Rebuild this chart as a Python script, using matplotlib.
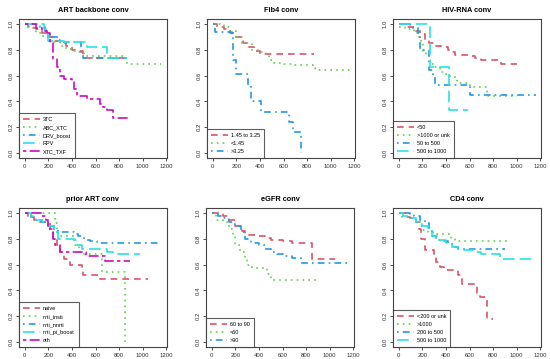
import numpy as np
import matplotlib
matplotlib.use("Agg")
import matplotlib.pyplot as plt

plt.rcParams['font.family'] = ['Liberation Sans', 'DejaVu Sans']

# R default palette colours and line types
RED, GREEN, BLUE, CYAN, MAGENTA = '#DF536B', '#61D04F', '#2297E6', '#28E2E5', '#CD0BBC'
LTY = [(0, (4, 3)), (0, (1, 2.5)), (0, (1, 2.5, 4, 2.5)), (0, (7, 3)), (0, (2, 2, 6, 2))]

#------------------------------------------------------------------------------
# ART backbone conv
art_3tc_t = [0, 30, 100, 150, 200, 250, 300, 350, 400, 450, 490, 900]
art_3tc_s = [1.0, 0.97, 0.96, 0.93, 0.90, 0.87, 0.85, 0.83, 0.80, 0.79, 0.74, 0.74]
art_abc_t = [0, 40, 100, 150, 200, 250, 300, 350, 400, 450, 500, 860, 870, 1150]
art_abc_s = [1.0, 0.97, 0.93, 0.91, 0.88, 0.86, 0.83, 0.81, 0.79, 0.78, 0.75, 0.74, 0.69, 0.69]
art_drv_t = [0, 130, 170, 200, 280, 300, 480, 490, 870]
art_drv_s = [1.0, 0.98, 0.95, 0.90, 0.88, 0.86, 0.78, 0.74, 0.74]
art_rpv_t = [0, 160, 180, 200, 330, 530, 700, 870]
art_rpv_s = [1.0, 0.96, 0.93, 0.87, 0.86, 0.82, 0.74, 0.74]
art_txf_t = [0, 100, 150, 185, 213, 241, 270, 298, 330, 397, 420, 440, 525, 640, 667, 695, 752, 880]
art_txf_s = [1.0, 0.97, 0.95, 0.93, 0.85, 0.73, 0.67, 0.60, 0.57, 0.55, 0.50, 0.44, 0.42, 0.38, 0.36, 0.33, 0.27, 0.27]

# Fib4 conv
fib_mid_t = [0, 40, 100, 150, 200, 260, 300, 350, 400, 860]
fib_mid_s = [1.0, 0.98, 0.96, 0.93, 0.90, 0.85, 0.82, 0.79, 0.77, 0.77]
fib_low_t = [0, 100, 150, 200, 250, 330, 400, 450, 480, 520, 600, 700, 850, 870, 1160]
fib_low_s = [1.0, 0.98, 0.95, 0.90, 0.85, 0.80, 0.78, 0.76, 0.72, 0.70, 0.69, 0.68, 0.66, 0.64, 0.64]
fib_high_t = [0, 20, 165, 175, 200, 297, 325, 410, 650, 678, 745, 745]
fib_high_s = [1.0, 0.94, 0.90, 0.72, 0.61, 0.53, 0.40, 0.32, 0.24, 0.16, 0.0, 0.0]

# HIV-RNA conv
hiv_lt50_t = [0, 50, 120, 180, 220, 260, 300, 360, 420, 450, 480, 600, 650, 700, 870, 1000]
hiv_lt50_s = [1.0, 0.98, 0.95, 0.92, 0.88, 0.85, 0.83, 0.82, 0.80, 0.78, 0.76, 0.755, 0.74, 0.725, 0.69, 0.69]
hiv_gt1000_t = [0, 50, 130, 170, 190, 207, 230, 264, 300, 350, 400, 450, 490, 600, 750, 1000]
hiv_gt1000_s = [0.98, 0.96, 0.93, 0.90, 0.85, 0.79, 0.75, 0.69, 0.67, 0.63, 0.60, 0.59, 0.54, 0.51, 0.44, 0.44]
hiv_50_500_t = [0, 100, 120, 160, 179, 260, 292, 306, 600, 1160]
hiv_50_500_s = [1.0, 0.98, 0.97, 0.93, 0.80, 0.64, 0.60, 0.53, 0.45, 0.45]
hiv_500_1000_t = [0, 264, 425, 590]
hiv_500_1000_s = [1.0, 0.665, 0.33, 0.33]

# prior ART conv
pri_naive_t = [0, 30, 76, 132, 188, 216, 240, 272, 300, 329, 385, 483, 497, 624, 638, 1040]
pri_naive_s = [1.0, 0.97, 0.95, 0.93, 0.92, 0.85, 0.80, 0.75, 0.70, 0.64, 0.60, 0.58, 0.52, 0.52, 0.49, 0.49]
pri_insti_t = [0, 258, 270, 285, 300, 430, 460, 490, 652, 848, 850]
pri_insti_s = [1.0, 0.92, 0.87, 0.83, 0.82, 0.75, 0.70, 0.68, 0.54, 0.0, 0.0]
pri_nnrti_t = [0, 50, 100, 150, 200, 250, 280, 420, 450, 500, 550, 610, 1140]
pri_nnrti_s = [1.0, 0.97, 0.95, 0.93, 0.90, 0.87, 0.85, 0.84, 0.82, 0.79, 0.78, 0.77, 0.77]
pri_pi_t = [0, 50, 100, 150, 200, 250, 286, 420, 440, 483, 700, 750, 980]
pri_pi_s = [1.0, 0.98, 0.95, 0.93, 0.90, 0.85, 0.80, 0.79, 0.75, 0.72, 0.70, 0.68, 0.68]
pri_oth_t = [0, 150, 180, 200, 240, 260, 300, 520, 680, 890]
pri_oth_s = [1.0, 0.98, 0.95, 0.88, 0.80, 0.75, 0.70, 0.67, 0.63, 0.63]

# eGFR conv
egfr_mid_t = [0, 100, 150, 200, 260, 282, 400, 450, 500, 600, 680, 850, 1040]
egfr_mid_s = [1.0, 0.98, 0.95, 0.90, 0.86, 0.83, 0.82, 0.81, 0.79, 0.78, 0.77, 0.64, 0.64]
egfr_low_t = [0, 40, 100, 150, 180, 200, 240, 280, 300, 339, 470, 500, 880]
egfr_low_s = [1.0, 0.95, 0.93, 0.88, 0.82, 0.75, 0.70, 0.65, 0.60, 0.57, 0.53, 0.48, 0.48]
egfr_high_t = [0, 50, 100, 150, 200, 250, 280, 330, 400, 450, 500, 550, 600, 680, 760, 1150]
egfr_high_s = [1.0, 0.98, 0.96, 0.93, 0.90, 0.85, 0.80, 0.77, 0.75, 0.72, 0.70, 0.68, 0.67, 0.65, 0.61, 0.61]

# CD4 conv
cd4_lt200_t = [0, 50, 100, 150, 170, 190, 221, 300, 320, 350, 380, 500, 533, 660, 690, 750, 800]
cd4_lt200_s = [1.0, 0.97, 0.96, 0.93, 0.88, 0.80, 0.71, 0.66, 0.62, 0.58, 0.56, 0.52, 0.45, 0.38, 0.35, 0.18, 0.18]
cd4_gt1000_t = [0, 30, 100, 150, 180, 200, 250, 292, 440, 480, 950]
cd4_gt1000_s = [1.0, 0.97, 0.96, 0.93, 0.90, 0.87, 0.85, 0.835, 0.80, 0.785, 0.785]
cd4_200_500_t = [0, 100, 130, 180, 220, 260, 280, 320, 380, 420, 460, 500, 900]
cd4_200_500_s = [1.0, 0.99, 0.98, 0.95, 0.92, 0.88, 0.82, 0.79, 0.78, 0.76, 0.74, 0.72, 0.72]
cd4_500_1000_t = [0, 40, 100, 150, 200, 250, 280, 330, 400, 450, 500, 550, 650, 700, 860, 1160]
cd4_500_1000_s = [1.0, 0.98, 0.96, 0.93, 0.90, 0.86, 0.82, 0.79, 0.77, 0.74, 0.72, 0.71, 0.70, 0.68, 0.64, 0.64]

panels = [
    ('ART backbone conv', ['3TC', 'ABC_XTC', 'DRV_boost', 'RPV', 'XTC_TXF'],
     [(art_3tc_t, art_3tc_s), (art_abc_t, art_abc_s), (art_drv_t, art_drv_s),
      (art_rpv_t, art_rpv_s), (art_txf_t, art_txf_s)]),
    ('Fib4 conv', ['1.45 to 3.25', '<1.45', '>3.25'],
     [(fib_mid_t, fib_mid_s), (fib_low_t, fib_low_s), (fib_high_t, fib_high_s)]),
    ('HIV-RNA conv', ['<50', '>1000 or unk', '50 to 500', '500 to 1000'],
     [(hiv_lt50_t, hiv_lt50_s), (hiv_gt1000_t, hiv_gt1000_s),
      (hiv_50_500_t, hiv_50_500_s), (hiv_500_1000_t, hiv_500_1000_s)]),
    ('prior ART conv', ['naive', 'nrti_insti', 'nrti_nnrti', 'nrti_pi_boost', 'oth'],
     [(pri_naive_t, pri_naive_s), (pri_insti_t, pri_insti_s), (pri_nnrti_t, pri_nnrti_s),
      (pri_pi_t, pri_pi_s), (pri_oth_t, pri_oth_s)]),
    ('eGFR conv', ['60 to 90', '<60', '>90'],
     [(egfr_mid_t, egfr_mid_s), (egfr_low_t, egfr_low_s), (egfr_high_t, egfr_high_s)]),
    ('CD4 conv', ['<200 or unk', '>1000', '200 to 500', '500 to 1000'],
     [(cd4_lt200_t, cd4_lt200_s), (cd4_gt1000_t, cd4_gt1000_s),
      (cd4_200_500_t, cd4_200_500_s), (cd4_500_1000_t, cd4_500_1000_s)]),
]

colors = [RED, GREEN, BLUE, CYAN, MAGENTA]
W, H = 550, 359
lefts = [19, 207, 393, 19, 206, 393]
tops = [19, 19, 19, 208, 208, 208]

fig = plt.figure(figsize=(W / 100, H / 100), dpi=100)
for k, (title, labels, curves) in enumerate(panels):
    ax = fig.add_axes([lefts[k] / W, 1 - (tops[k] + 139) / H, 148 / W, 139 / H])
    for i, (t, s) in enumerate(curves):
        ax.step(t, s, where='post', color=colors[i], linestyle=LTY[i], lw=1.2, label=labels[i])
    ax.set_xlim(-48, 1205)
    ax.set_ylim(-0.04, 1.04)
    ax.set_xticks(np.arange(0, 1201, 200))
    ax.set_yticks(np.arange(0, 1.01, 0.2))
    ax.set_yticklabels(['%.1f' % v for v in np.arange(0, 1.01, 0.2)], rotation=90, va='center')
    ax.tick_params(labelsize=4.3, length=2.5, width=0.6, pad=1.5, colors='#333333')
    for sp in ax.spines.values():
        sp.set_linewidth(0.8)
        sp.set_color('#444444')
    ax.set_title(title, fontsize=5.3, fontweight='bold', pad=5)
    leg = ax.legend(loc='lower left', fontsize=4, frameon=True, fancybox=False,
                    borderaxespad=0, handlelength=3.0, handletextpad=0.6,
                    labelspacing=0.55, borderpad=0.7)
    leg.get_frame().set_edgecolor('#333333')
    leg.get_frame().set_linewidth(0.8)

fig.savefig('out.png', dpi=100)
